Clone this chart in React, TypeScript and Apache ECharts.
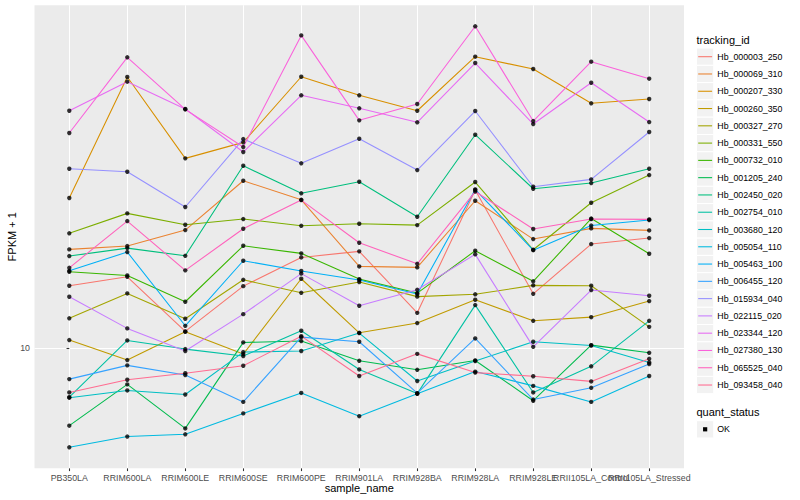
import React, { useEffect, useRef } from "react";
import * as echarts from "echarts";

const categories = [
  "PB350LA", "RRIM600LA", "RRIM600LE", "RRIM600SE", "RRIM600PE", "RRIM901LA",
  "RRIM928BA", "RRIM928LA", "RRIM928LE", "RRII105LA_Control", "RRII105LA_Stressed",
];

const trackingIds = [
  "Hb_000003_250", "Hb_000069_310", "Hb_000207_330", "Hb_000260_350", "Hb_000327_270",
  "Hb_000331_550", "Hb_000732_010", "Hb_001205_240", "Hb_002450_020", "Hb_002754_010",
  "Hb_003680_120", "Hb_005054_110", "Hb_005463_100", "Hb_006455_120", "Hb_015934_040",
  "Hb_022115_020", "Hb_023344_120", "Hb_027380_130", "Hb_065525_040", "Hb_093458_040",
];

const colors = [
  "#F8766D", "#EA8331", "#D89000", "#C09B00", "#A3A500", "#7CAE00", "#39B600",
  "#00BB4E", "#00BF7D", "#00C1A3", "#00BFC4", "#00BAE0", "#00B0F6", "#35A2FF",
  "#9590FF", "#C77CFF", "#E76BF3", "#FA62DB", "#FF62BC", "#FF6C91",
];

// FPKM + 1 values, one array per tracking_id, in category order
const hb000003_250 = [14.34, 15.1, 11.03, 14.31, 16.88, 17.48, 12.27, 24.88, 13.69, 18.23, 18.87];
const hb000069_310 = [17.68, 18.02, 19.76, 26.24, 23.52, 16.03, 15.94, 23.39, 18.76, 19.95, 19.72];
const hb000207_330 = [23.76, 47.67, 29.85, 32.73, 47.75, 42.91, 39.26, 53.58, 49.92, 40.98, 42.01];
const hb000260_350 = [10.49, 9.35, 11.0, 9.68, 14.93, 10.94, 11.57, 13.23, 11.72, 11.97, 13.13];
const hb000327_270 = [11.89, 13.72, 11.86, 14.84, 13.77, 14.65, 13.47, 13.65, 14.37, 14.34, 11.32];
const hb000331_550 = [19.39, 21.75, 20.37, 21.05, 20.25, 20.49, 20.33, 26.05, 17.64, 23.12, 27.12];
const hb000732_010 = [15.54, 15.22, 13.08, 18.05, 17.28, 14.9, 13.75, 17.54, 14.71, 21.11, 17.24];
const hb001205_240 = [6.41, 8.13, 6.31, 10.35, 10.43, 9.31, 8.84, 9.33, 7.4, 10.19, 9.75];
const hb002450_020 = [17.01, 17.81, 17.04, 28.61, 24.41, 26.09, 21.33, 34.2, 25.06, 25.9, 28.12];
const hb002754_010 = [7.55, 10.47, 9.96, 9.57, 11.07, 8.86, 7.71, 12.83, 7.76, 9.02, 11.72];
const hb003680_120 = [7.53, 7.85, 7.67, 9.79, 9.85, 10.92, 8.29, 9.3, 10.39, 10.17, 9.22];
const hb005054_110 = [5.66, 6.02, 6.1, 6.88, 7.74, 6.77, 7.7, 8.75, 8.06, 7.35, 8.53];
const hb005463_100 = [15.63, 17.41, 11.39, 16.56, 15.61, 14.82, 13.67, 24.95, 17.6, 20.28, 20.93];
const hb006455_120 = [8.38, 9.07, 8.58, 7.35, 10.67, 10.39, 7.73, 10.59, 7.45, 7.97, 9.14];
const hb015934_040 = [28.12, 27.64, 22.56, 33.36, 29.01, 33.42, 27.91, 39.2, 25.35, 26.45, 34.74];
const hb022115_020 = [13.46, 11.22, 9.85, 12.18, 15.38, 12.78, 14.01, 17.18, 10.09, 13.99, 13.54];
const hb023344_120 = [39.26, 46.4, 39.66, 30.96, 42.91, 39.81, 36.73, 51.67, 36.37, 46.13, 36.79];
const hb027380_130 = [34.54, 53.4, 39.58, 31.86, 60.58, 37.15, 40.81, 63.83, 37.0, 52.06, 47.21];
const hb065525_040 = [15.9, 20.81, 15.67, 19.91, 23.48, 18.37, 16.27, 24.66, 19.88, 21.05, 21.01];
const hb093458_040 = [7.76, 8.35, 8.67, 9.05, 10.73, 8.53, 9.69, 8.7, 8.52, 8.27, 9.42];

const seriesValues = [
  hb000003_250, hb000069_310, hb000207_330, hb000260_350, hb000327_270,
  hb000331_550, hb000732_010, hb001205_240, hb002450_020, hb002754_010,
  hb003680_120, hb005054_110, hb005463_100, hb006455_120, hb015934_040,
  hb022115_020, hb023344_120, hb027380_130, hb065525_040, hb093458_040,
];

const yTicks = [10];
const quantStatus = ["OK"];

const FONT = "'Liberation Sans', Arial, Helvetica, sans-serif";

export default function App() {
  const ref = useRef<HTMLDivElement>(null);

  useEffect(() => {
    if (!ref.current) return;
    const chart = echarts.init(ref.current, undefined, { renderer: "svg" });

    const all = seriesValues.flat();
    const lmin = Math.log10(Math.min(...all));
    const lmax = Math.log10(Math.max(...all));
    const pad = (lmax - lmin) * 0.05;
    const yMin = Math.pow(10, lmin - pad);
    const yMax = Math.pow(10, lmax + pad);

    const lineSeries = seriesValues.map((vals, si) => ({
      type: "line",
      name: trackingIds[si],
      data: vals.map((v, i) => [i, v]),
      showSymbol: false,
      symbol: "none",
      lineStyle: { color: colors[si], width: 1.07 },
      itemStyle: { color: colors[si] },
      z: 2,
      silent: true,
    }));

    const pointData: number[][] = [];
    seriesValues.forEach((vals) => vals.forEach((v, i) => pointData.push([i, v])));

    // legend (drawn as graphic elements)
    const legendEls: any[] = [];
    const lx = 696.5;
    const keySize = 17.28;
    legendEls.push({
      type: "text",
      x: lx,
      y: 39.5,
      style: { text: "tracking_id", fill: "#000", font: `11px ${FONT}`, verticalAlign: "middle" },
    });
    trackingIds.forEach((name, i) => {
      const cy = 56.7 + i * keySize;
      legendEls.push({
        type: "rect",
        shape: { x: lx, y: cy - keySize / 2, width: keySize, height: keySize },
        style: { fill: "#F2F2F2", stroke: "#FFFFFF", lineWidth: 1 },
      });
      legendEls.push({
        type: "line",
        shape: { x1: lx + 1.7, y1: cy, x2: lx + keySize - 1.7, y2: cy },
        style: { stroke: colors[i], lineWidth: 1.07 },
      });
      legendEls.push({
        type: "text",
        x: lx + keySize + 3.5,
        y: cy,
        style: {
          text: name,
          fill: "#000",
          font: `8.8px ${FONT}`,
          verticalAlign: "middle",
          align: "left",
        },
      });
    });
    legendEls.push({
      type: "text",
      x: lx,
      y: 412,
      style: { text: "quant_status", fill: "#000", font: `11px ${FONT}`, verticalAlign: "middle" },
    });
    quantStatus.forEach((name, i) => {
      const cy = 429.3 + i * keySize;
      legendEls.push({
        type: "rect",
        shape: { x: lx, y: cy - keySize / 2, width: keySize, height: keySize },
        style: { fill: "#F2F2F2", stroke: "#FFFFFF", lineWidth: 1 },
      });
      legendEls.push({
        type: "rect",
        shape: { x: lx + keySize / 2 - 2.1, y: cy - 2.1, width: 4.2, height: 4.2 },
        style: { fill: "#000" },
      });
      legendEls.push({
        type: "text",
        x: lx + keySize + 3.5,
        y: cy,
        style: { text: name, fill: "#000", font: `8.8px ${FONT}`, verticalAlign: "middle" },
      });
    });

    const idx = categories.map((_, i) => i);
    const mainLabelIdx = idx.filter((i) => i !== 9);
    const altLabelIdx = [9];

    const labelBase = {
      color: "#4D4D4D",
      fontSize: 8.8,
      fontFamily: FONT,
      margin: 5,
      formatter: (v: number) => categories[Math.round(v)] ?? "",
      hideOverlap: false,
      showMinLabel: true,
      showMaxLabel: true,
    };

    chart.setOption({
      animation: false,
      textStyle: { fontFamily: FONT },
      grid: {
        show: true,
        backgroundColor: "#EBEBEB",
        borderWidth: 0,
        left: 34.5,
        right: 116,
        top: 5.25,
        bottom: 31.65,
        containLabel: false,
        outerBoundsMode: "none",
      },
      xAxis: [
        {
          type: "value",
          min: -0.6,
          max: 10.6,
          position: "bottom",
          name: "sample_name",
          nameLocation: "middle",
          nameGap: 14,
          nameMoveOverlap: false,
          nameTextStyle: { color: "#000", fontSize: 11, fontFamily: FONT },
          axisLine: { show: false },
          axisTick: {
            show: true,
            length: 2.75,
            lineStyle: { color: "#333333", width: 1.07 },
            customValues: idx,
          },
          axisLabel: { ...labelBase, customValues: mainLabelIdx },
          splitLine: { show: true, lineStyle: { color: "#FFFFFF", width: 1.07 } },
        },
        {
          type: "value",
          min: -0.6,
          max: 10.6,
          position: "bottom",
          offset: 0,
          axisLine: { show: false },
          axisTick: { show: false, customValues: altLabelIdx },
          axisLabel: { ...labelBase, customValues: altLabelIdx },
          splitLine: { show: false },
        },
      ],
      yAxis: {
        type: "log",
        logBase: 10,
        min: yMin,
        max: yMax,
        name: "FPKM + 1",
        nameLocation: "middle",
        nameGap: 17,
        nameMoveOverlap: false,
        nameTextStyle: { color: "#000", fontSize: 11, fontFamily: FONT },
        axisLine: { show: false },
        axisTick: {
          show: true,
          length: 2.75,
          lineStyle: { color: "#333333", width: 1.07 },
          customValues: yTicks,
        },
        axisLabel: {
          color: "#4D4D4D",
          fontSize: 8.8,
          fontFamily: FONT,
          margin: 4.5,
          customValues: yTicks,
          formatter: (v: number) => (Math.abs(v - 10) < 1e-6 ? "10" : ""),
        },
        splitLine: { show: true, lineStyle: { color: "#FFFFFF", width: 1.07 } },
      },
      series: [
        ...lineSeries,
        {
          type: "scatter",
          name: "OK",
          data: pointData,
          symbol: "circle",
          symbolSize: 4.4,
          itemStyle: { color: "#000000" },
          z: 5,
          silent: true,
        },
      ],
      graphic: legendEls,
    });

    return () => chart.dispose();
  }, []);

  return (
    <div
      ref={ref}
      style={{ position: "absolute", left: 0, top: 0, width: 800, height: 500 }}
    />
  );
}
